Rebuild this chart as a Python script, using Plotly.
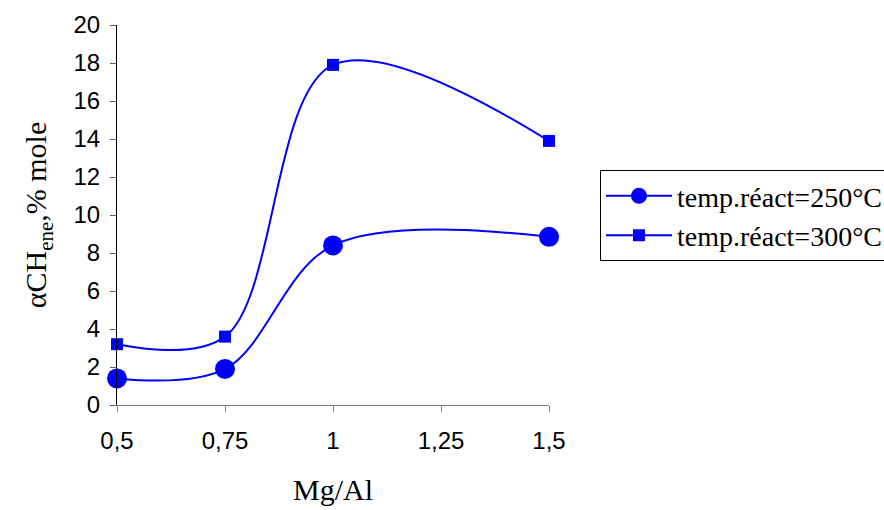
import plotly.graph_objects as go

mg_al = [0.5, 0.75, 1.0, 1.5]
temp250 = [1.4, 1.9, 8.4, 8.85]
temp300 = [3.2, 3.6, 17.9, 13.9]
x_ticks = [0.5, 0.75, 1.0, 1.25, 1.5]
x_tick_labels = ["0,5", "0,75", "1", "1,25", "1,5"]
y_ticks = list(range(0, 21, 2))

blue = "#0000FF"
serif = "Liberation Serif, Times New Roman, serif"
fig = go.Figure()
fig.add_trace(go.Scatter(
    x=mg_al, y=temp250, name="temp.réact=250°C", mode="lines+markers",
    line=dict(color=blue, width=2, shape="spline", smoothing=1.0),
    marker=dict(symbol="circle", size=20, color=blue), cliponaxis=False))
fig.add_trace(go.Scatter(
    x=mg_al, y=temp300, name="temp.réact=300°C", mode="lines+markers",
    line=dict(color=blue, width=2, shape="spline", smoothing=1.0),
    marker=dict(symbol="square", size=12, color=blue), cliponaxis=False))

fig.update_layout(
    width=884, height=510,
    margin=dict(l=117, r=335, t=25, b=105, autoexpand=False),
    paper_bgcolor="white", plot_bgcolor="white",
    font=dict(family="Liberation Sans, Arial", size=24, color="black"),
    legend=dict(x=1.118, y=0.618, xanchor="left", yanchor="top",
                bordercolor="black", borderwidth=1, bgcolor="white",
                font=dict(family=serif, size=28),
                itemwidth=66, tracegroupgap=0),
    xaxis=dict(range=[0.5, 1.5], tickvals=x_ticks, ticktext=x_tick_labels,
               showgrid=False, zeroline=False, showline=True, linecolor="#808080",
               linewidth=1, ticks="outside", ticklen=6, tickcolor="#808080",
               tickfont=dict(size=24), ticklabelstandoff=8,
               title=dict(text="Mg/Al", standoff=26,
                          font=dict(family=serif, size=30))),
    yaxis=dict(range=[0, 20], tickvals=y_ticks, showgrid=False, zeroline=False,
               showline=True, linecolor="black", linewidth=1, ticks="outside",
               ticklen=6, tickcolor="#606060", tickfont=dict(size=24),
               ticklabelstandoff=5,
               title=dict(text="αCH<sub>ene</sub>,% mole", standoff=17,
                          font=dict(family=serif, size=30))),
)
fig.write_html("out.html", config={"displayModeBar": False},
               post_script="document.body.style.margin='0';document.body.style.overflow='hidden';")
